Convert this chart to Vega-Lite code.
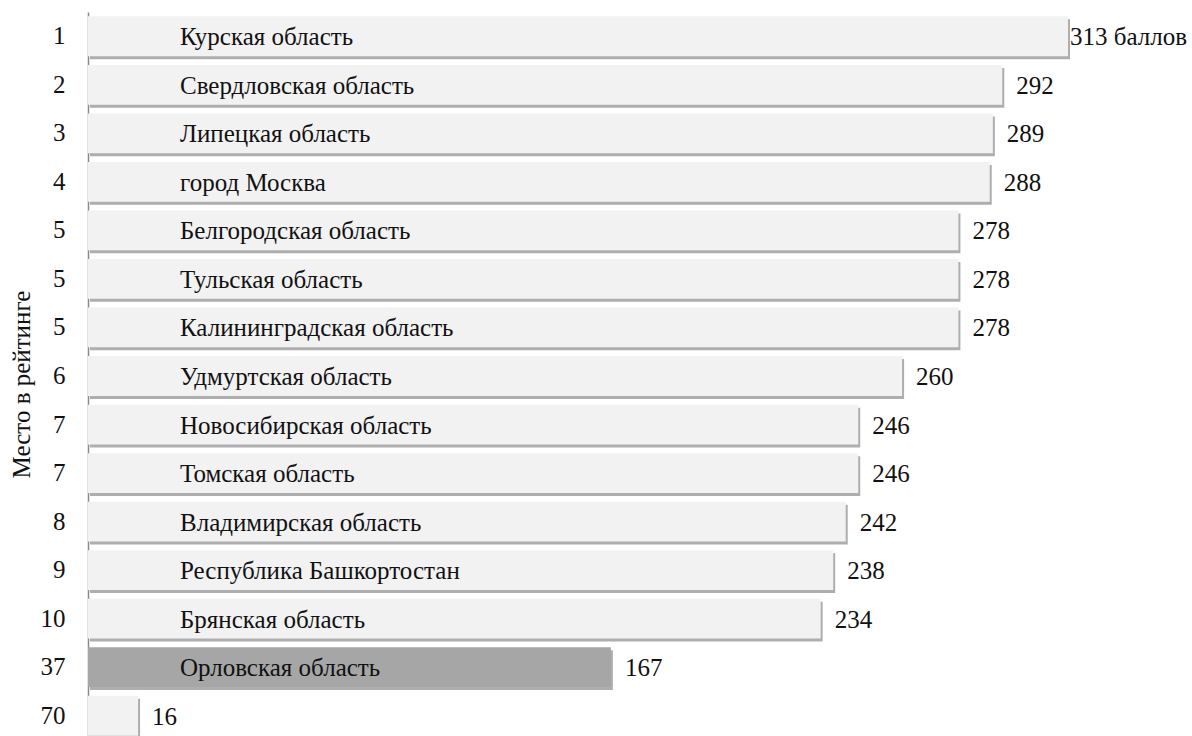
{
  "$schema": "https://vega.github.io/schema/vega-lite/v6.json",
  "autosize": "none",
  "width": 1104,
  "height": 728,
  "padding": {"left": 88, "top": 12, "right": 0, "bottom": 0},
  "background": "white",
  "view": {"stroke": null},
  "data": {
    "values": [
      {"key": "1|Курская область", "rank": "1", "region": "Курская область", "score": 313, "label": "313 баллов", "hl": "no"},
      {"key": "2|Свердловская область", "rank": "2", "region": "Свердловская область", "score": 292, "label": "292", "hl": "no"},
      {"key": "3|Липецкая область", "rank": "3", "region": "Липецкая область", "score": 289, "label": "289", "hl": "no"},
      {"key": "4|город Москва", "rank": "4", "region": "город Москва", "score": 288, "label": "288", "hl": "no"},
      {"key": "5|Белгородская область", "rank": "5", "region": "Белгородская область", "score": 278, "label": "278", "hl": "no"},
      {"key": "5|Тульская область", "rank": "5", "region": "Тульская область", "score": 278, "label": "278", "hl": "no"},
      {"key": "5|Калининградская область", "rank": "5", "region": "Калининградская область", "score": 278, "label": "278", "hl": "no"},
      {"key": "6|Удмуртская область", "rank": "6", "region": "Удмуртская область", "score": 260, "label": "260", "hl": "no"},
      {"key": "7|Новосибирская область", "rank": "7", "region": "Новосибирская область", "score": 246, "label": "246", "hl": "no"},
      {"key": "7|Томская область", "rank": "7", "region": "Томская область", "score": 246, "label": "246", "hl": "no"},
      {"key": "8|Владимирская область", "rank": "8", "region": "Владимирская область", "score": 242, "label": "242", "hl": "no"},
      {"key": "9|Республика Башкортостан", "rank": "9", "region": "Республика Башкортостан", "score": 238, "label": "238", "hl": "no"},
      {"key": "10|Брянская область", "rank": "10", "region": "Брянская область", "score": 234, "label": "234", "hl": "no"},
      {"key": "37|Орловская область", "rank": "37", "region": "Орловская область", "score": 167, "label": "167", "hl": "yes"},
      {"key": "70|", "rank": "70", "region": "", "score": 16, "label": "16", "hl": "no"}
    ]
  },
  "encoding": {
    "y": {
      "field": "key",
      "type": "nominal",
      "sort": null,
      "scale": {"paddingInner": 0.18, "paddingOuter": 0.09},
      "axis": {
        "title": "Место в рейтинге",
        "labelExpr": "split(datum.label, '|')[0]",
        "ticks": false,
        "tickSize": 0,
        "labelPadding": 23,
        "labelAlign": "right",
        "labelBaseline": "middle",
        "labelFont": "Liberation Serif",
        "labelFontSize": 25,
        "labelColor": "#111111",
        "domainColor": "#8a8a8a",
        "domainWidth": 1.5,
        "titleFont": "Liberation Serif",
        "titleFontSize": 25,
        "titleFontWeight": "normal",
        "titleColor": "#111111",
        "titleX": -67,
        "titleY": 372,
        "titleAngle": -90,
        "titleAlign": "center",
        "titleBaseline": "middle"
      }
    }
  },
  "layer": [
    {
      "mark": {"type": "bar", "color": "#9a9a9a", "opacity": 0.8, "xOffset": 2, "yOffset": 3},
      "encoding": {
        "x": {"field": "score", "type": "quantitative", "scale": {"domain": [0, 352.6], "nice": false}, "axis": null}
      }
    },
    {
      "mark": {"type": "bar"},
      "encoding": {
        "x": {"field": "score", "type": "quantitative"},
        "color": {
          "field": "hl",
          "type": "nominal",
          "scale": {"domain": ["no", "yes"], "range": ["#f2f2f2", "#a6a6a6"]},
          "legend": null
        }
      }
    },
    {
      "mark": {"type": "text", "align": "left", "baseline": "middle", "dx": 92, "dy": 1, "font": "Liberation Serif", "fontSize": 25, "color": "#111111"},
      "encoding": {
        "x": {"datum": 0, "type": "quantitative"},
        "text": {"field": "region"}
      }
    },
    {
      "transform": [{"filter": "datum.rank != '1'"}],
      "mark": {"type": "text", "align": "left", "baseline": "middle", "dx": 14, "dy": 1, "font": "Liberation Serif", "fontSize": 25, "color": "#111111"},
      "encoding": {
        "x": {"field": "score", "type": "quantitative"},
        "text": {"field": "label"}
      }
    },
    {
      "transform": [{"filter": "datum.rank == '1'"}],
      "mark": {"type": "text", "align": "left", "baseline": "middle", "dx": 2, "dy": 1, "font": "Liberation Serif", "fontSize": 25, "color": "#111111"},
      "encoding": {
        "x": {"field": "score", "type": "quantitative"},
        "text": {"field": "label"}
      }
    }
  ]
}
